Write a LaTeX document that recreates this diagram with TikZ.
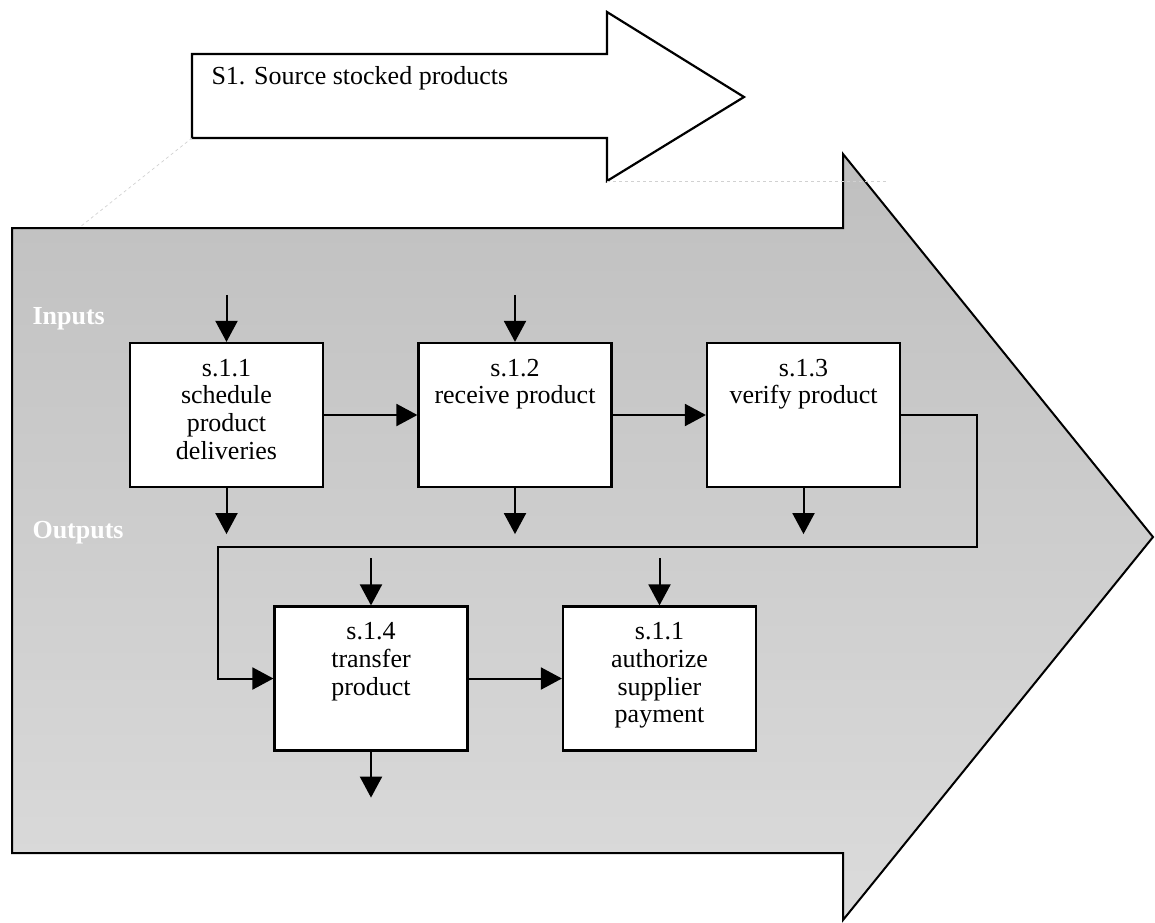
\documentclass[tikz,border=0pt]{standalone}
\usepackage{fontspec}
\setmainfont{Liberation Serif}
\usetikzlibrary{arrows.meta}
\newcommand*{\boxw}{193pt}
\newcommand*{\boxh}{144pt}
\newcommand*{\stubin }{47pt}
\newcommand*{\stubout}{46pt}
\newcommand*{\proctext}[1]{\parbox[c][136pt][t]{189pt}{\centering\vspace*{12pt}#1}}
\tikzset{
    proc/.style={draw, fill=white, line width=2.2pt, inner sep=2pt, minimum width=\boxw, minimum height=\boxh},
    flow/.style={line width=2pt, -{Triangle[length=21pt,width=22pt]}},
    guide/.style={draw=black!18, dashed, line width=0.7pt},
    side/.style={anchor=base west, text=white, font=\fontsize{26}{30}\selectfont\bfseries},
}

\begin{document}
\begin{tikzpicture}[x=1pt, y=-1pt, font=\fontsize{26}{27.7}\selectfont]
    \useasboundingbox (0,0) rectangle (1155,922);
    \draw [line width=2pt, top color=black!25, bottom color=black!14] (12,228) -- (843,228) -- (843,154) -- (1153,537) -- (843,920) -- (843,853) -- (12,853) -- cycle;
    \draw [line width=2.2pt, fill=white] (192,54) -- (607,54) -- (607,12) -- (744,97) -- (607,181) -- (607,138) -- (192,138) -- cycle;
    \node [anchor=base west] (stage) at (208,84) {S1. Source stocked products};
    \draw [guide] (192,138) -- (80,227);
    \draw [guide] (607,181) -- (888,181);
    %\draw [guide] (843,154) -- (843,228);

    \node [side] (inputs)  at (29,324) {Inputs};
    \node [side] (outputs) at (29,538) {Outputs};

    \node [proc] (s11) at (226.5,415) {\proctext{s.1.1\\schedule\\product\\deliveries}};
    \node [proc] (s12) at (515,415)   {\proctext{s.1.2\\receive product}};
    \node [proc] (s13) at (803.5,415) {\proctext{s.1.3\\verify product}};
    \node [proc] (s14) at (371,678.5) {\proctext{s.1.4\\transfer\\product}};
    \node [proc] (s15) at (659.5,678.5) {\proctext{s.1.1\\authorize\\supplier\\payment}};

    \foreach \n in {s11,s12,s14,s15} {
        \coordinate (in-\n) at ([yshift=\stubin]\n.north);
        \draw [flow] (in-\n) -- (\n.north);
    }
    \foreach \n in {s11,s12,s13,s14} {
        \coordinate (out-\n) at ([yshift=-\stubout]\n.south);
        \draw [flow] (\n.south) -- (out-\n);
    }
    \draw [flow] (s11) -- (s12);
    \draw [flow] (s12) -- (s13);
    \draw [flow] (s14) -- (s15);
    \draw [flow] (s13.east) -- ++(76,0) -- ++(0,132) -| ([xshift=-55pt]s14.west) -- (s14.west);
\end{tikzpicture}
\end{document}
